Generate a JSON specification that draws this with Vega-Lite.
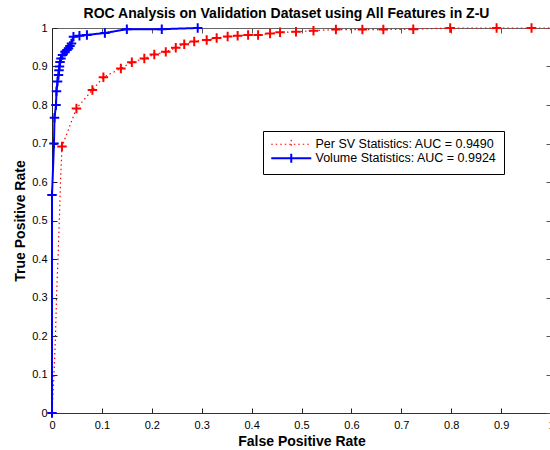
{
  "$schema": "https://vega.github.io/schema/vega-lite/v6.json",
  "autosize": "none",
  "width": 499,
  "height": 385,
  "padding": {"left": 52, "top": 28, "right": 0, "bottom": 37},
  "background": "white",
  "config": {
    "font": "Liberation Sans",
    "view": {"stroke": null},
    "axis": {"labelFont": "Liberation Sans", "labelFontSize": 11, "labelColor": "#000", "titleFont": "Liberation Sans", "titleFontSize": 14, "titleFontWeight": "bold", "titleColor": "#000", "domainColor": "#222", "tickColor": "#222", "grid": false},
    "legend": {"title": null, "orient": "none", "legendX": 211, "legendY": 103, "symbolType": "M-4,0H4M0,-0.9V0.9", "symbolSize": 100, "symbolOffset": 15, "symbolFillColor": "transparent", "labelFont": "Liberation Sans", "labelFontSize": 12.5, "labelLimit": 400, "labelColor": "#000", "padding": 7, "rowPadding": -4, "labelOffset": 18, "strokeColor": "#000", "fillColor": "#fff", "cornerRadius": 0}
  },
  "title": {"text": "ROC Analysis on Validation Dataset using All Features in Z-U", "font": "Liberation Sans", "fontSize": 14, "fontWeight": "bold", "color": "#000", "anchor": "middle", "dx": -15, "offset": -2},
  "datasets": {
    "roc": [
      {"series": "Per SV Statistics: AUC = 0.9490", "i": 0, "fpr": 0, "tpr": 0, "marker": false},
      {"series": "Per SV Statistics: AUC = 0.9490", "i": 1, "fpr": 0.002, "tpr": 0.05, "marker": false},
      {"series": "Per SV Statistics: AUC = 0.9490", "i": 2, "fpr": 0.004, "tpr": 0.1, "marker": false},
      {"series": "Per SV Statistics: AUC = 0.9490", "i": 3, "fpr": 0.007, "tpr": 0.2, "marker": false},
      {"series": "Per SV Statistics: AUC = 0.9490", "i": 4, "fpr": 0.009, "tpr": 0.3, "marker": false},
      {"series": "Per SV Statistics: AUC = 0.9490", "i": 5, "fpr": 0.012, "tpr": 0.4, "marker": false},
      {"series": "Per SV Statistics: AUC = 0.9490", "i": 6, "fpr": 0.0147, "tpr": 0.5, "marker": false},
      {"series": "Per SV Statistics: AUC = 0.9490", "i": 7, "fpr": 0.017, "tpr": 0.6, "marker": false},
      {"series": "Per SV Statistics: AUC = 0.9490", "i": 8, "fpr": 0.02, "tpr": 0.692, "marker": true},
      {"series": "Per SV Statistics: AUC = 0.9490", "i": 9, "fpr": 0.049, "tpr": 0.791, "marker": true},
      {"series": "Per SV Statistics: AUC = 0.9490", "i": 10, "fpr": 0.081, "tpr": 0.839, "marker": true},
      {"series": "Per SV Statistics: AUC = 0.9490", "i": 11, "fpr": 0.103, "tpr": 0.872, "marker": true},
      {"series": "Per SV Statistics: AUC = 0.9490", "i": 12, "fpr": 0.138, "tpr": 0.895, "marker": true},
      {"series": "Per SV Statistics: AUC = 0.9490", "i": 13, "fpr": 0.16, "tpr": 0.911, "marker": true},
      {"series": "Per SV Statistics: AUC = 0.9490", "i": 14, "fpr": 0.185, "tpr": 0.921, "marker": true},
      {"series": "Per SV Statistics: AUC = 0.9490", "i": 15, "fpr": 0.205, "tpr": 0.931, "marker": true},
      {"series": "Per SV Statistics: AUC = 0.9490", "i": 16, "fpr": 0.228, "tpr": 0.938, "marker": true},
      {"series": "Per SV Statistics: AUC = 0.9490", "i": 17, "fpr": 0.248, "tpr": 0.949, "marker": true},
      {"series": "Per SV Statistics: AUC = 0.9490", "i": 18, "fpr": 0.265, "tpr": 0.958, "marker": true},
      {"series": "Per SV Statistics: AUC = 0.9490", "i": 19, "fpr": 0.285, "tpr": 0.965, "marker": true},
      {"series": "Per SV Statistics: AUC = 0.9490", "i": 20, "fpr": 0.31, "tpr": 0.969, "marker": true},
      {"series": "Per SV Statistics: AUC = 0.9490", "i": 21, "fpr": 0.33, "tpr": 0.974, "marker": true},
      {"series": "Per SV Statistics: AUC = 0.9490", "i": 22, "fpr": 0.352, "tpr": 0.978, "marker": true},
      {"series": "Per SV Statistics: AUC = 0.9490", "i": 23, "fpr": 0.372, "tpr": 0.98, "marker": true},
      {"series": "Per SV Statistics: AUC = 0.9490", "i": 24, "fpr": 0.393, "tpr": 0.982, "marker": true},
      {"series": "Per SV Statistics: AUC = 0.9490", "i": 25, "fpr": 0.413, "tpr": 0.982, "marker": true},
      {"series": "Per SV Statistics: AUC = 0.9490", "i": 26, "fpr": 0.437, "tpr": 0.986, "marker": true},
      {"series": "Per SV Statistics: AUC = 0.9490", "i": 27, "fpr": 0.457, "tpr": 0.989, "marker": true},
      {"series": "Per SV Statistics: AUC = 0.9490", "i": 28, "fpr": 0.489, "tpr": 0.99, "marker": true},
      {"series": "Per SV Statistics: AUC = 0.9490", "i": 29, "fpr": 0.524, "tpr": 0.993, "marker": true},
      {"series": "Per SV Statistics: AUC = 0.9490", "i": 30, "fpr": 0.569, "tpr": 0.996, "marker": true},
      {"series": "Per SV Statistics: AUC = 0.9490", "i": 31, "fpr": 0.622, "tpr": 0.996, "marker": true},
      {"series": "Per SV Statistics: AUC = 0.9490", "i": 32, "fpr": 0.664, "tpr": 0.996, "marker": true},
      {"series": "Per SV Statistics: AUC = 0.9490", "i": 33, "fpr": 0.724, "tpr": 0.997, "marker": true},
      {"series": "Per SV Statistics: AUC = 0.9490", "i": 34, "fpr": 0.798, "tpr": 1.0, "marker": true},
      {"series": "Per SV Statistics: AUC = 0.9490", "i": 35, "fpr": 0.891, "tpr": 1.0, "marker": true},
      {"series": "Per SV Statistics: AUC = 0.9490", "i": 36, "fpr": 0.961, "tpr": 1.0, "marker": true},
      {"series": "Per SV Statistics: AUC = 0.9490", "i": 37, "fpr": 1.0, "tpr": 1.0, "marker": false},
      {"series": "Volume Statistics: AUC = 0.9924", "i": 0, "fpr": 0, "tpr": 0, "marker": true},
      {"series": "Volume Statistics: AUC = 0.9924", "i": 1, "fpr": 0, "tpr": 0.566, "marker": true},
      {"series": "Volume Statistics: AUC = 0.9924", "i": 2, "fpr": 0.004, "tpr": 0.7, "marker": true},
      {"series": "Volume Statistics: AUC = 0.9924", "i": 3, "fpr": 0.005, "tpr": 0.767, "marker": true},
      {"series": "Volume Statistics: AUC = 0.9924", "i": 4, "fpr": 0.008, "tpr": 0.8, "marker": true},
      {"series": "Volume Statistics: AUC = 0.9924", "i": 5, "fpr": 0.009, "tpr": 0.836, "marker": true},
      {"series": "Volume Statistics: AUC = 0.9924", "i": 6, "fpr": 0.011, "tpr": 0.861, "marker": true},
      {"series": "Volume Statistics: AUC = 0.9924", "i": 7, "fpr": 0.013, "tpr": 0.878, "marker": true},
      {"series": "Volume Statistics: AUC = 0.9924", "i": 8, "fpr": 0.014, "tpr": 0.89, "marker": true},
      {"series": "Volume Statistics: AUC = 0.9924", "i": 9, "fpr": 0.015, "tpr": 0.9, "marker": true},
      {"series": "Volume Statistics: AUC = 0.9924", "i": 10, "fpr": 0.016, "tpr": 0.912, "marker": true},
      {"series": "Volume Statistics: AUC = 0.9924", "i": 11, "fpr": 0.018, "tpr": 0.921, "marker": true},
      {"series": "Volume Statistics: AUC = 0.9924", "i": 12, "fpr": 0.021, "tpr": 0.93, "marker": true},
      {"series": "Volume Statistics: AUC = 0.9924", "i": 13, "fpr": 0.026, "tpr": 0.938, "marker": true},
      {"series": "Volume Statistics: AUC = 0.9924", "i": 14, "fpr": 0.03, "tpr": 0.943, "marker": true},
      {"series": "Volume Statistics: AUC = 0.9924", "i": 15, "fpr": 0.033, "tpr": 0.947, "marker": true},
      {"series": "Volume Statistics: AUC = 0.9924", "i": 16, "fpr": 0.036, "tpr": 0.953, "marker": true},
      {"series": "Volume Statistics: AUC = 0.9924", "i": 17, "fpr": 0.039, "tpr": 0.96, "marker": true},
      {"series": "Volume Statistics: AUC = 0.9924", "i": 18, "fpr": 0.043, "tpr": 0.977, "marker": true},
      {"series": "Volume Statistics: AUC = 0.9924", "i": 19, "fpr": 0.055, "tpr": 0.98, "marker": true},
      {"series": "Volume Statistics: AUC = 0.9924", "i": 20, "fpr": 0.07, "tpr": 0.982, "marker": true},
      {"series": "Volume Statistics: AUC = 0.9924", "i": 21, "fpr": 0.106, "tpr": 0.987, "marker": true},
      {"series": "Volume Statistics: AUC = 0.9924", "i": 22, "fpr": 0.15, "tpr": 0.997, "marker": true},
      {"series": "Volume Statistics: AUC = 0.9924", "i": 23, "fpr": 0.22, "tpr": 0.997, "marker": true},
      {"series": "Volume Statistics: AUC = 0.9924", "i": 24, "fpr": 0.292, "tpr": 1.0, "marker": true}
    ]
  },
  "data": {"name": "roc"},
  "layer": [
    {
      "encoding": {
        "x": {"field": "fpr", "type": "quantitative", "scale": {"domain": [0, 1], "nice": false, "zero": false},
              "axis": {"title": "False Positive Rate", "values": [0, 0.1, 0.2, 0.3, 0.4, 0.5, 0.6, 0.7, 0.8, 0.9, 1], "format": ".1~f", "tickSize": -5, "labelPadding": 11, "titlePadding": 4, "labelFlush": false, "domainColor": "#333"}},
        "y": {"field": "tpr", "type": "quantitative", "scale": {"domain": [0, 1], "nice": false, "zero": false},
              "axis": {"title": "True Positive Rate", "values": [0, 0.1, 0.2, 0.3, 0.4, 0.5, 0.6, 0.7, 0.8, 0.9, 1], "format": ".1~f", "tickSize": -5, "labelPadding": 10, "titlePadding": 4, "labelFlush": false}},
        "color": {"field": "series", "type": "nominal", "title": null,
                  "scale": {"domain": ["Per SV Statistics: AUC = 0.9490", "Volume Statistics: AUC = 0.9924"], "range": ["#ff0000", "#0000ff"]}},
        "strokeDash": {"field": "series", "type": "nominal", "title": null,
                       "scale": {"domain": ["Per SV Statistics: AUC = 0.9490", "Volume Statistics: AUC = 0.9924"], "range": [[1.5, 3], [1, 0]]}},
        "strokeWidth": {"field": "series", "type": "nominal", "title": null,
                        "scale": {"domain": ["Per SV Statistics: AUC = 0.9490", "Volume Statistics: AUC = 0.9924"], "range": [1.2, 2]}}
      },
      "layer": [
        {"mark": {"type": "line", "clip": false}, "encoding": {"order": {"field": "i", "type": "quantitative"}}},
        {"transform": [{"filter": "datum.marker"}],
         "mark": {"type": "point", "shape": "M-1,0H1M0,-1V1", "size": 90, "filled": false, "opacity": 1, "clip": false},
         "encoding": {"strokeWidth": {"value": 2}, "strokeDash": {"value": [1, 0]}}}
      ]
    },
    {
      "mark": {"type": "point", "opacity": 0},
      "encoding": {
        "x": {"field": "fpr", "type": "quantitative", "scale": {"domain": [0, 1], "nice": false, "zero": false},
              "axis": {"orient": "top", "title": null, "labels": false, "values": [0, 0.1, 0.2, 0.3, 0.4, 0.5, 0.6, 0.7, 0.8, 0.9, 1], "tickSize": -5, "domainColor": "#666", "tickColor": "#555"}},
        "y": {"field": "tpr", "type": "quantitative", "scale": {"domain": [0, 1], "nice": false, "zero": false},
              "axis": {"orient": "right", "title": null, "labels": false, "values": [0, 0.1, 0.2, 0.3, 0.4, 0.5, 0.6, 0.7, 0.8, 0.9, 1], "tickSize": -5, "domainColor": "#666", "tickColor": "#555"}}
      }
    }
  ],
  "resolve": {"scale": {"x": "independent", "y": "independent"}}
}
